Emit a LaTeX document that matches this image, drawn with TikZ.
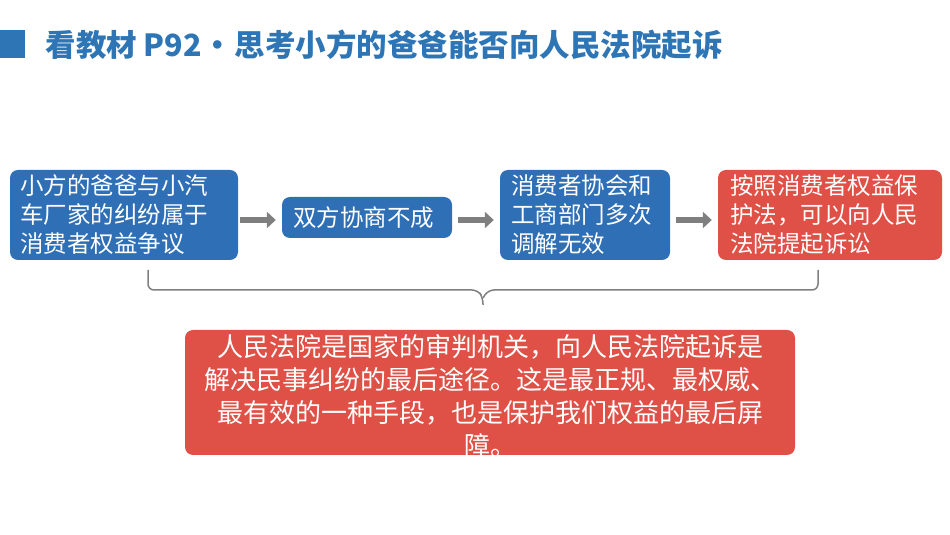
\documentclass[tikz,border=0pt]{standalone}
\usepackage{fontspec}
\setmainfont{Noto Sans CJK SC}
\usetikzlibrary{arrows.meta}
\definecolor{tblue}{HTML}{2E75B6}
\definecolor{bblue}{HTML}{2F6FB5}
\definecolor{bred}{HTML}{DF5046}
\definecolor{agray}{HTML}{7F7F7F}
\begin{document}
\begin{tikzpicture}[x=1pt,y=1pt,
  box/.style={draw=none,rounded corners=8pt,text=white,font=\fontsize{23.5}{29}\selectfont,inner sep=0pt},
  arr/.style={-{Triangle[length=9pt,width=16pt]},line width=6pt,agray}]
\useasboundingbox (0,0) rectangle (950,535);
\fill[tblue] (0,477) rectangle (25,505);
\node[anchor=west,text=tblue,font=\bfseries\fontsize{30.5}{34}\selectfont] (title) at (42,490) {看教材 P92•\hspace{-5pt} 思考小方的爸爸能否向人民法院起诉};
\node[box,fill=bblue,minimum width=228pt,minimum height=90pt] (b1) at (124,320) {};
\node[box,fill=bblue,minimum width=170pt,minimum height=41pt] (b2) at (367,317.5) {};
\node[box,fill=bblue,minimum width=170pt,minimum height=90pt] (b3) at (585,320) {};
\node[box,fill=bred,minimum width=224pt,minimum height=90pt] (b4) at (830,320) {};
\node[box,anchor=west,align=left] (t1) at (20,320) {小方的爸爸与小汽\\车厂家的纠纷属于\\消费者权益争议};
\node[box,anchor=west] (t2) at (293,317.5) {双方协商不成};
\node[box,anchor=west,align=left] (t3) at (511,320) {消费者协会和\\工商部门多次\\调解无效};
\node[box,anchor=west,align=left] (t4) at (730,320) {按照消费者权益保\\护法，可以向人民\\法院提起诉讼};
\draw[arr] ([xshift=2pt]b1.east |- 0,315) -- ([xshift=-6pt]b2.west |- 0,315);
\draw[arr] ([xshift=6pt]b2.east |- 0,315) -- ([xshift=-6pt]b3.west |- 0,315);
\draw[arr] ([xshift=6pt]b3.east |- 0,315) -- ([xshift=-6pt]b4.west |- 0,315);
\coordinate (bl) at (148,265);
\coordinate (br) at (818,265);
\coordinate (tip) at (483,230);
\draw[agray,line width=1.5pt,rounded corners=6pt] (bl) -- (148,245) -- (478,245) -- (483,237) -- (tip);
\draw[agray,line width=1.5pt,rounded corners=6pt] (br) -- (818,245) -- (488,245) -- (483,237);
\node[box,fill=bred,minimum width=610pt,minimum height=125pt] (big) at (490,142.5) {};
\node[box,align=center,font=\fontsize{26}{33}\selectfont] (bigt) at (490,139) {人民法院是国家的审判机关，向人民法院起诉是\\解决民事纠纷的最后途径。这是最正规、最权威、\\最有效的一种手段，也是保护我们权益的最后屏\\障。};
\end{tikzpicture}
\end{document}
